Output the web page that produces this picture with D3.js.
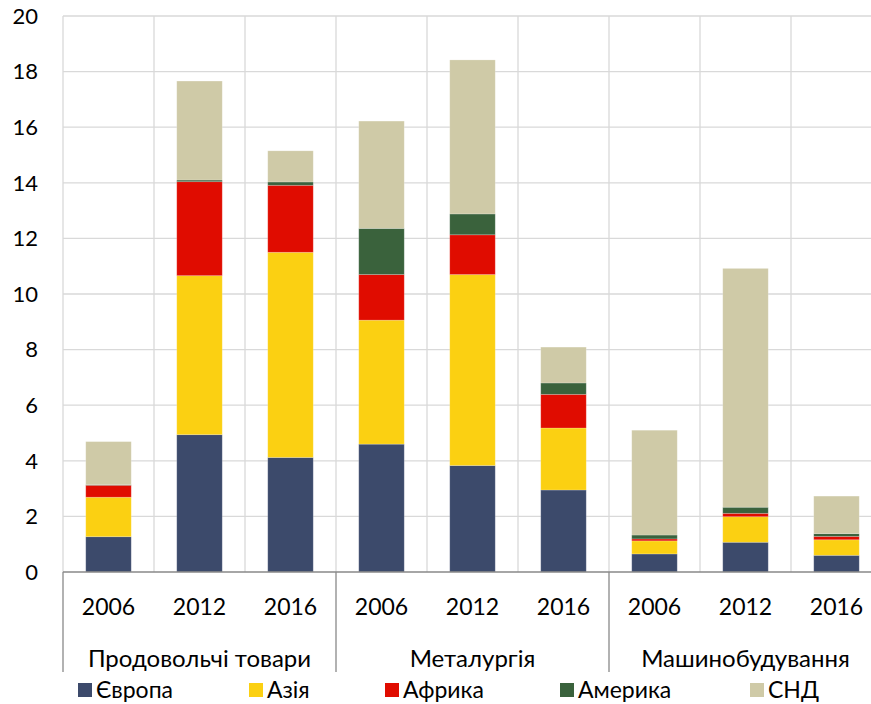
<!DOCTYPE html>
<html>
<head>
<meta charset="utf-8">
<script src="https://cdn.jsdelivr.net/npm/d3@7"></script>
<style>
  body { margin: 0; background: #fff; }
  svg text { font-family: Lato, "Open Sans", sans-serif; fill: #000; }
</style>
</head>
<body>
<div id="graf"></div>
<script>
// Дані
const groups = ["Продовольчі товари", "Металургія", "Машинобудування"]
const years = ["2006", "2012", "2016"]
const regions = ["Європа", "Азія", "Африка", "Америка", "СНД"]
const colors = ["#3c4a6b", "#fbd012", "#e00c00", "#3a623c", "#cfcaa7"]

// значення по стовпцях: група x рік
const europe  = [1.27, 4.94, 4.12, 4.60, 3.83, 2.95, 0.65, 1.07, 0.60]
const asia    = [1.42, 5.72, 7.38, 4.46, 6.87, 2.23, 0.47, 0.92, 0.56]
const africa  = [0.43, 3.38, 2.41, 1.64, 1.43, 1.21, 0.07, 0.12, 0.12]
const america = [0.02, 0.06, 0.12, 1.66, 0.75, 0.41, 0.14, 0.22, 0.10]
const cis     = [1.55, 3.56, 1.12, 3.86, 5.54, 1.29, 3.77, 8.59, 1.35]

const yTicks = [0, 2, 4, 6, 8, 10, 12, 14, 16, 18, 20]

const series = [europe, asia, africa, america, cis]

const data = []
groups.forEach((g, gi) => {
  years.forEach((yr, yi) => {
    const i = gi * years.length + yi
    const row = { key: g + "|" + yr, group: g, year: yr }
    regions.forEach((r, ri) => { row[r] = series[ri][i] })
    data.push(row)
  })
})

const width = 871
const height = 704
const margins = { top: 16, left: 63, bottom: 132 }
const plotRight = 882

const svg = d3.select("#graf").append("svg")
  .attr("width", width)
  .attr("height", height)

const x = d3.scaleBand()
  .domain(data.map(d => d.key))
  .range([margins.left, plotRight])
  .paddingInner(0.5)
  .paddingOuter(0.25)

const y = d3.scaleLinear()
  .domain([0, 20])
  .range([height - margins.bottom, margins.top])

const step = x.step()

// Сітка
const grid = svg.append("g")
grid.selectAll(".hgrid")
  .data(yTicks.filter(t => t > 0))
  .join("line")
  .attr("x1", margins.left).attr("x2", plotRight)
  .attr("y1", d => y(d)).attr("y2", d => y(d))
  .attr("stroke", "#d9d9d9").attr("stroke-width", 1.3)

grid.selectAll(".vgrid")
  .data(data)
  .join("line")
  .attr("x1", d => x(d.key) - x.bandwidth() / 2)
  .attr("x2", d => x(d.key) - x.bandwidth() / 2)
  .attr("y1", y(20)).attr("y2", y(0))
  .attr("stroke", "#d9d9d9").attr("stroke-width", 1.3)

// Стовпці
const stack = d3.stack().keys(regions)(data)

svg.append("g")
  .selectAll("g")
  .data(stack)
  .join("g")
  .attr("fill", (d, i) => colors[i])
  .selectAll("rect")
  .data(d => d)
  .join("rect")
  .attr("x", d => x(d.data.key))
  .attr("width", x.bandwidth())
  .attr("y", d => y(d[1]))
  .attr("height", d => y(d[0]) - y(d[1]))
  .attr("stroke", "#ffffff")
  .attr("stroke-opacity", 0.25)
  .attr("stroke-width", 0.8)

// Вісь Y
svg.append("g")
  .selectAll("text")
  .data(yTicks)
  .join("text")
  .attr("x", 38)
  .attr("y", d => y(d))
  .attr("dy", "0.35em")
  .attr("text-anchor", "end")
  .style("font-size", "22px")
  .text(d => d)

// Вісь X
svg.append("line")
  .attr("x1", margins.left).attr("x2", plotRight)
  .attr("y1", y(0)).attr("y2", y(0))
  .attr("stroke", "#898989").attr("stroke-width", 1.3)

// роздільники груп
const groupEdges = [0, 1, 2, 3].map(i => margins.left + i * step * years.length)
svg.append("g")
  .selectAll("line")
  .data(groupEdges)
  .join("line")
  .attr("x1", d => d).attr("x2", d => d)
  .attr("y1", y(0)).attr("y2", 672)
  .attr("stroke", "#898989").attr("stroke-width", 1.3)

svg.append("g")
  .selectAll("text")
  .data(data)
  .join("text")
  .attr("x", d => x(d.key) + x.bandwidth() / 2)
  .attr("y", 615)
  .attr("text-anchor", "middle")
  .style("font-size", "23px")
  .text(d => d.year)

svg.append("g")
  .selectAll("text")
  .data(groups)
  .join("text")
  .attr("x", (d, i) => groupEdges[i] + step * years.length / 2)
  .attr("y", 667)
  .attr("text-anchor", "middle")
  .style("font-size", "24px")
  .text(d => d)

// Легенда
const legendX = [78, 249, 385, 560, 750]
const legend = svg.append("g")
  .selectAll("g")
  .data(regions)
  .join("g")
  .attr("transform", (d, i) => `translate(${legendX[i]}, 683)`)

legend.append("rect")
  .attr("width", 14).attr("height", 14)
  .attr("fill", (d, i) => colors[i])

legend.append("text")
  .attr("x", 18)
  .attr("y", 7)
  .attr("dy", "0.34em")
  .style("font-size", "23px")
  .text(d => d)
</script>
</body>
</html>
